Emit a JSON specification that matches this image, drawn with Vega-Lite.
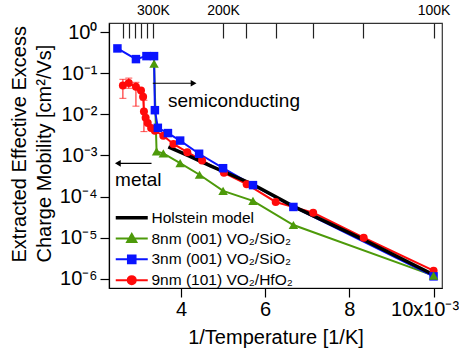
{
  "$schema": "https://vega.github.io/schema/vega-lite/v6.json",
  "width": 333,
  "height": 265,
  "autosize": {"type": "none"},
  "padding": {"left": 109, "top": 23, "right": 17, "bottom": 66},
  "config": {
    "font": "Liberation Sans",
    "view": {"stroke": "#333", "strokeWidth": 1.2},
    "axis": {"labelColor": "#000", "titleColor": "#000", "tickColor": "#000", "domainColor": "#000", "grid": false, "titleFontWeight": "normal", "labelFontSize": 20, "titleFontSize": 20, "labelFont": "Liberation Sans", "titleFont": "Liberation Sans", "domainWidth": 1.2, "tickWidth": 1.2},
    "legend": {"orient": "none", "legendX": 3, "legendY": 187, "title": null, "labelFontSize": 15.5, "labelFont": "Liberation Sans", "labelColor": "#000", "symbolSize": 64, "symbolOffset": 12, "labelOffset": 12, "rowPadding": 2.8, "padding": 0}
  },
  "datasets": {
    "series": [
      {"series": "8nm (001) VO₂/SiO₂", "x": 3.36, "y": 0.17},
      {"series": "8nm (001) VO₂/SiO₂", "x": 3.42, "y": 0.00126},
      {"series": "8nm (001) VO₂/SiO₂", "x": 3.58, "y": 0.00112},
      {"series": "8nm (001) VO₂/SiO₂", "x": 3.98, "y": 0.00065},
      {"series": "8nm (001) VO₂/SiO₂", "x": 4.44, "y": 0.00034},
      {"series": "8nm (001) VO₂/SiO₂", "x": 5.0, "y": 0.000138},
      {"series": "8nm (001) VO₂/SiO₂", "x": 5.71, "y": 0.000079},
      {"series": "8nm (001) VO₂/SiO₂", "x": 6.67, "y": 0.0000204},
      {"series": "8nm (001) VO₂/SiO₂", "x": 10.0, "y": 0.0000012},
      {"series": "3nm (001) VO₂/SiO₂", "x": 2.49, "y": 0.40},
      {"series": "3nm (001) VO₂/SiO₂", "x": 2.93, "y": 0.22},
      {"series": "3nm (001) VO₂/SiO₂", "x": 3.18, "y": 0.26},
      {"series": "3nm (001) VO₂/SiO₂", "x": 3.36, "y": 0.26},
      {"series": "3nm (001) VO₂/SiO₂", "x": 3.38, "y": 0.0126},
      {"series": "3nm (001) VO₂/SiO₂", "x": 3.45, "y": 0.0047},
      {"series": "3nm (001) VO₂/SiO₂", "x": 3.69, "y": 0.0035},
      {"series": "3nm (001) VO₂/SiO₂", "x": 3.98, "y": 0.0023},
      {"series": "3nm (001) VO₂/SiO₂", "x": 4.43, "y": 0.0011},
      {"series": "3nm (001) VO₂/SiO₂", "x": 5.0, "y": 0.00049},
      {"series": "3nm (001) VO₂/SiO₂", "x": 5.71, "y": 0.00019},
      {"series": "3nm (001) VO₂/SiO₂", "x": 6.67, "y": 0.000056},
      {"series": "3nm (001) VO₂/SiO₂", "x": 10.0, "y": 0.00000115},
      {"series": "9nm (101) VO₂/HfO₂", "x": 2.62, "y": 0.0501},
      {"series": "9nm (101) VO₂/HfO₂", "x": 2.76, "y": 0.0575},
      {"series": "9nm (101) VO₂/HfO₂", "x": 2.93, "y": 0.0468},
      {"series": "9nm (101) VO₂/HfO₂", "x": 3.05, "y": 0.038},
      {"series": "9nm (101) VO₂/HfO₂", "x": 3.10, "y": 0.0269},
      {"series": "9nm (101) VO₂/HfO₂", "x": 3.12, "y": 0.0117},
      {"series": "9nm (101) VO₂/HfO₂", "x": 3.16, "y": 0.0083},
      {"series": "9nm (101) VO₂/HfO₂", "x": 3.21, "y": 0.00617},
      {"series": "9nm (101) VO₂/HfO₂", "x": 3.29, "y": 0.00468},
      {"series": "9nm (101) VO₂/HfO₂", "x": 3.38, "y": 0.00398},
      {"series": "9nm (101) VO₂/HfO₂", "x": 3.58, "y": 0.00302},
      {"series": "9nm (101) VO₂/HfO₂", "x": 3.82, "y": 0.00191},
      {"series": "9nm (101) VO₂/HfO₂", "x": 4.15, "y": 0.0012},
      {"series": "9nm (101) VO₂/HfO₂", "x": 4.50, "y": 0.000759},
      {"series": "9nm (101) VO₂/HfO₂", "x": 5.02, "y": 0.00038},
      {"series": "9nm (101) VO₂/HfO₂", "x": 5.56, "y": 0.0002},
      {"series": "9nm (101) VO₂/HfO₂", "x": 6.25, "y": 0.0000741},
      {"series": "9nm (101) VO₂/HfO₂", "x": 7.14, "y": 0.0000407},
      {"series": "9nm (101) VO₂/HfO₂", "x": 8.34, "y": 0.00001},
      {"series": "9nm (101) VO₂/HfO₂", "x": 10.0, "y": 0.00000158}
    ],
    "holstein": [
      {"x": 3.70, "y": 0.00162},
      {"x": 4.2, "y": 0.00096},
      {"x": 4.7, "y": 0.00056},
      {"x": 5.2, "y": 0.000335},
      {"x": 5.7, "y": 0.0002},
      {"x": 6.67, "y": 0.000058},
      {"x": 8.26, "y": 0.0000098},
      {"x": 10.0, "y": 0.00000126}
    ],
    "errs": [
      {"x": 2.62, "lo": 0.0245, "hi": 0.071},
      {"x": 2.76, "lo": 0.043, "hi": 0.076},
      {"x": 2.93, "lo": 0.0158, "hi": 0.06},
      {"x": 3.12, "lo": 0.0038, "hi": 0.022}
    ],
    "arrows": [
      {"x": 3.33, "x2": 4.30, "y": 0.0569},
      {"x": 3.30, "x2": 2.50, "y": 0.000645}
    ],
    "heads": [
      {"x": 4.30, "y": 0.0569, "shp": "triangle-right"},
      {"x": 2.50, "y": 0.000645, "shp": "triangle-left"}
    ],
    "notes": [
      {"x": 3.69, "y": 0.0151, "label": "semiconducting"},
      {"x": 2.435, "y": 0.000182, "label": "metal"}
    ]
  },
  "resolve": {"axis": {"x": "independent", "y": "independent"}},
  "layer": [
    {
      "data": {"name": "series"},
      "mark": {"type": "line", "strokeWidth": 2},
      "encoding": {
        "x": {"field": "x", "type": "quantitative",
          "scale": {"domain": [2.29, 10.2], "nice": false, "zero": false},
          "axis": {"orient": "bottom", "values": [4, 6, 8, 10],
            "labelExpr": "datum.value == 10 ? '10x10⁻³' : datum.label",
            "labelOffset": {"condition": {"test": "datum.value == 10", "value": -9}, "value": 0},
            "labelFlush": false, "labelOverlap": false,
            "tickSize": 9, "labelPadding": 2,
            "title": "1/Temperature [1/K]", "titleY": 55, "titleBaseline": "alphabetic"}},
        "y": {"field": "y", "type": "quantitative",
          "scale": {"type": "log", "domain": [6e-7, 1.66], "nice": false},
          "axis": {"values": [1, 0.1, 0.01, 0.001, 0.0001, 0.00001, 0.000001],
            "labelExpr": "'10' + ['⁰','⁻¹','⁻²','⁻³','⁻⁴','⁻⁵','⁻⁶'][-round(log(datum.value)/LN10)]",
            "tickSize": 9, "labelPadding": 3, "labelOverlap": false, "labelFlush": false,
            "title": ["Extracted Effective Excess", "Charge Mobility [cm²/Vs]"],
            "titleAngle": -90, "titleAlign": "left", "titleBaseline": "alphabetic",
            "titleX": -84, "titleY": 239, "titleLineHeight": 25}},
        "color": {"field": "series", "type": "nominal",
          "scale": {"domain": ["Holstein model", "8nm (001) VO₂/SiO₂", "3nm (001) VO₂/SiO₂", "9nm (101) VO₂/HfO₂"],
                    "range": ["#000000", "#4d9a0a", "#0a14ff", "#ff0a0a"]},
          "legend": {
            "encode": {"symbols": {"update": {
              "shape": {"signal": "datum.index === 0 ? 'M-4,0H4' : datum.index === 1 ? 'M-4,0H4M0,-1.15L1.15,0.85L-1.15,0.85Z' : datum.index === 2 ? 'M-4,0H4M-0.95,-0.95H0.95V0.95H-0.95Z' : 'M-4,0H4M1,0A1,1,0,1,1,-1,0A1,1,0,1,1,1,0Z'"},
              "fill": {"signal": "datum.index === 0 ? 'transparent' : scale('color', datum.value)"},
              "stroke": {"signal": "scale('color', datum.value)"},
              "strokeWidth": {"signal": "datum.index === 0 ? 3.5 : 2"},
              "size": {"value": 64},
              "opacity": {"value": 1}
            }}},
            "encoding": {"symbols": {"update": {
              "shape": {"signal": "datum.index === 0 ? 'M-4,0H4' : datum.index === 1 ? 'M-4,0H4M0,-1.15L1.15,0.85L-1.15,0.85Z' : datum.index === 2 ? 'M-4,0H4M-0.95,-0.95H0.95V0.95H-0.95Z' : 'M-4,0H4M1,0A1,1,0,1,1,-1,0A1,1,0,1,1,1,0Z'"},
              "fill": {"signal": "datum.index === 0 ? 'transparent' : scale('color', datum.value)"},
              "stroke": {"signal": "scale('color', datum.value)"},
              "strokeWidth": {"signal": "datum.index === 0 ? 3.5 : 2"},
              "size": {"value": 64},
              "opacity": {"value": 1}
            }}}}}
      }
    },
    {
      "data": {"name": "holstein"},
      "mark": {"type": "line", "strokeWidth": 3.5, "color": "#000000"},
      "encoding": {
        "x": {"field": "x", "type": "quantitative",
          "axis": {"orient": "top",
            "values": [2.625, 2.767, 2.91, 3.05, 3.19, 3.3333, 5, 5.5556, 6.25, 7.1429, 8.3333, 10],
            "labelExpr": "datum.value == 3.3333 ? '300K' : datum.value == 5 ? '200K' : datum.value == 10 ? '100K' : ''",
            "labelFontSize": 14, "labelFlush": false, "labelOverlap": false,
            "tickSize": -15, "labelPadding": 21, "domain": false, "tickColor": "#222", "title": null}},
        "y": {"field": "y", "type": "quantitative", "axis": null}
      }
    },
    {
      "data": {"name": "errs"},
      "mark": {"type": "errorbar", "ticks": {"size": 7}, "color": "#ff0a0a", "thickness": 1},
      "encoding": {
        "x": {"field": "x", "type": "quantitative", "axis": null},
        "y": {"field": "lo", "type": "quantitative", "axis": null},
        "y2": {"field": "hi"}
      }
    },
    {
      "data": {"name": "series"},
      "transform": [{"filter": "datum.series === '9nm (101) VO₂/HfO₂'"}],
      "mark": {"type": "point", "filled": true, "opacity": 1, "shape": "circle", "size": 64, "color": "#ff0a0a"},
      "encoding": {
        "x": {"field": "x", "type": "quantitative", "axis": null},
        "y": {"field": "y", "type": "quantitative", "axis": null}
      }
    },
    {
      "data": {"name": "series"},
      "transform": [{"filter": "datum.series === '3nm (001) VO₂/SiO₂'"}],
      "mark": {"type": "point", "filled": true, "opacity": 1, "shape": "square", "size": 72, "color": "#0a14ff"},
      "encoding": {
        "x": {"field": "x", "type": "quantitative", "axis": null},
        "y": {"field": "y", "type": "quantitative", "axis": null}
      }
    },
    {
      "data": {"name": "series"},
      "transform": [{"filter": "datum.series === '8nm (001) VO₂/SiO₂'"}],
      "mark": {"type": "point", "filled": true, "opacity": 1, "shape": "triangle-up", "size": 90, "color": "#4d9a0a"},
      "encoding": {
        "x": {"field": "x", "type": "quantitative", "axis": null},
        "y": {"field": "y", "type": "quantitative", "axis": null}
      }
    },
    {
      "data": {"name": "arrows"},
      "mark": {"type": "rule", "color": "#000", "strokeWidth": 1.2},
      "encoding": {
        "x": {"field": "x", "type": "quantitative", "axis": null},
        "x2": {"field": "x2"},
        "y": {"field": "y", "type": "quantitative", "axis": null}
      }
    },
    {
      "data": {"name": "heads"},
      "mark": {"type": "point", "filled": true, "color": "#000", "opacity": 1, "size": 45},
      "encoding": {
        "x": {"field": "x", "type": "quantitative", "axis": null},
        "y": {"field": "y", "type": "quantitative", "axis": null},
        "shape": {"field": "shp", "type": "nominal", "scale": null}
      }
    },
    {
      "data": {"name": "notes"},
      "mark": {"type": "text", "align": "left", "baseline": "alphabetic", "fontSize": 19, "color": "#000", "font": "Liberation Sans"},
      "encoding": {
        "x": {"field": "x", "type": "quantitative", "axis": null},
        "y": {"field": "y", "type": "quantitative", "axis": null},
        "text": {"field": "label"}
      }
    }
  ]
}
